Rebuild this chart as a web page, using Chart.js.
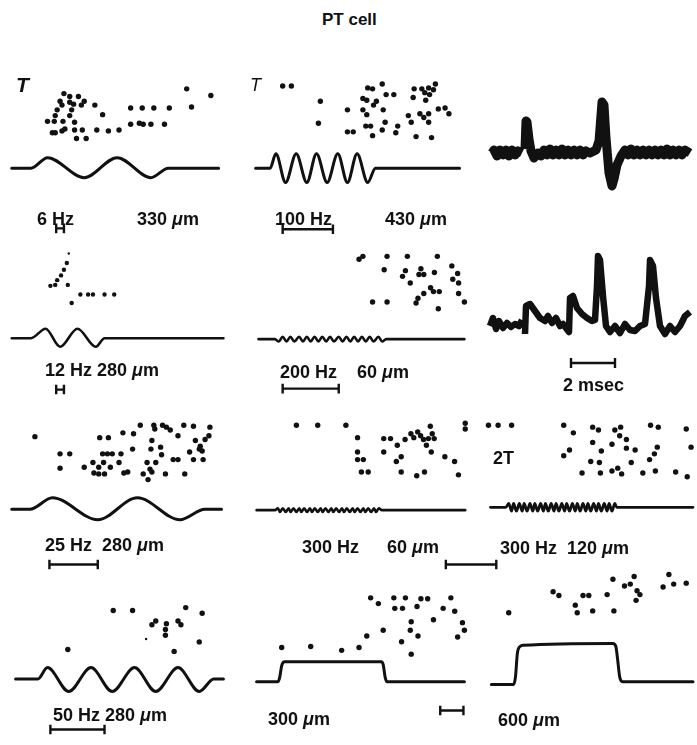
<!DOCTYPE html>
<html lang="en">
<head>
<meta charset="UTF-8">
<title>PT cell</title>
<script src="https://cdn.jsdelivr.net/npm/chart.js"></script>
<style>
    body { margin: 0; background: #fff; font-family: 'Liberation Sans', Arial, sans-serif; }
    #page { position: relative; width: 697px; height: 745px; overflow: hidden; }
    #page canvas { position: absolute; }
    .lbl { position: absolute; font-weight: bold; font-size: 18px; line-height: 20px; color: #111; white-space: pre; transform: translateY(-50%); }
    .lbl i { font-style: italic; }
</style>
</head>
<body>
<div id="page"></div>

<script>
// x = time units from the panel's left edge, y = height above the stimulus baseline

// 6 Hz, 330 um
const dots6Hz = [[62,78],[68,75],[77,75],[58,70],[68,69],[83,70],[60,66],[72,67],[80,66],[94,66],[55,61],[70,61],[102,56],[53,55],[68,55],[45,49],[52,49],[61,49],[73,48],[50,37],[53,37],[60,39],[63,41],[73,40],[81,40],[96,40],[108,39],[119,40],[75,31],[85,31],[131,63],[143,63],[155,63],[171,63],[194,64],[131,46],[140,47],[144,46],[152,46],[166,46],[189,83],[214,76]];
const wave6Hz = [[8,0],[28,0],[45,11],[83,-10],[117,11],[152,-10],[170,0],[222,0]];
const bar6Hz = [54,62,-63];

// 100 Hz, 430 um
const dots100Hz = [[40,86],[49,86],[79,70],[77,47],[107,61],[107,38],[113,38],[128,84],[133,83],[143,88],[147,77],[155,77],[123,73],[127,71],[137,70],[134,66],[123,61],[127,56],[144,61],[146,48],[126,44],[131,44],[133,34],[143,40],[157,37],[159,44],[176,83],[184,83],[191,84],[198,88],[196,82],[187,79],[192,77],[175,74],[188,71],[170,55],[173,48],[182,57],[186,53],[191,57],[191,48],[201,62],[208,63],[212,57],[178,33],[194,32]];
const wave100Hz = [[12,0],[27,0],[33,15],[43,-15],[54,15],[65,-15],[75,15],[86,-15],[97,15],[107,-15],[117,15],[128,-15],[136,0],[158,0],[223,0]];
const bar100Hz = [40,92,-64];

// unit record, single shock
const trace1 = [[12,0],[14,3],[17,-3],[20,3],[23,-2],[26,3],[29,-3],[32,3],[35,-2],[38,2],[42,0],[42,null],[45,4],[46,32],[47,31],[49,14],[51,2],[54,-5],[58,0],[61,-3],[64,3],[67,-2],[70,4],[73,-2],[76,3],[79,-2],[82,4],[85,-2],[88,3],[91,-2],[94,3],[97,-2],[100,3],[103,-2],[106,2],[110,0],[116,3],[119,12],[122,51],[124,48],[126,15],[129,-20],[132,-33],[134,-26],[137,-12],[141,-3],[145,3],[148,-2],[151,4],[154,-2],[157,3],[160,-2],[163,3],[166,-2],[169,3],[172,-2],[175,3],[178,-2],[181,3],[184,-2],[187,4],[190,-2],[193,3],[196,-2],[199,3],[202,-2],[205,3],[210,0]];

// 12 Hz, 280 um
const dots12Hz = [[65,79],[62,72],[59,66],[55,61],[53,56],[48,55],[66,56],[70,37],[79,46],[87,46],[92,46],[104,46],[114,46]];
const specks12Hz = [[67,89]];
const wave12Hz = [[8,0],[28,0],[43,10],[58,-9],[76,10],[95,-9],[104,0],[227,0]];
const bar12Hz = [54,62,-54];

// 200 Hz, 60 um
const dots200Hz = [[119,84],[123,87],[148,87],[169,87],[200,87],[145,73],[167,72],[164,66],[172,59],[183,74],[181,68],[186,68],[197,70],[215,77],[221,69],[216,63],[222,59],[193,54],[196,50],[202,50],[186,48],[180,43],[178,38],[133,39],[148,39],[201,32],[222,48],[228,39]];
const wave200Hz = [[15,0],[32,0],[36,-2.5],[40,2.5],[44,-2.5],[48,2.5],[52,-2.5],[57,2.5],[61,-2.5],[65,2.5],[69,-2.5],[73,2.5],[77,-2.5],[81,2.5],[85,-2.5],[89,2.5],[93,-2.5],[98,2.5],[102,-2.5],[106,2.5],[110,-2.5],[114,2.5],[118,-2.5],[122,2.5],[126,-2.5],[130,2.5],[134,-2.5],[139,2.5],[143,-2.5],[147,0],[228,0]];
const bar200Hz = [40,98,-52];

// unit record, train of shocks
const trace2 = [[10,0],[13,8],[16,-3],[19,5],[23,-2],[27,3],[31,-1],[35,2],[39,0],[42,6],[42,null],[45,-8],[46,20],[50,22],[55,15],[60,8],[65,5],[68,10],[72,3],[76,8],[80,0],[83,2],[86,-2],[89,-6],[90,28],[93,30],[97,18],[102,12],[107,8],[112,5],[115,6],[117,40],[118,70],[120,66],[123,30],[126,0],[130,-6],[135,0],[140,-7],[145,2],[150,-4],[155,-5],[160,0],[165,2],[169,40],[170,66],[173,60],[176,28],[180,0],[185,-8],[190,0],[195,-6],[200,0],[205,10],[210,14]];
const barMsec = [91,135,-37];

// 25 Hz, 280 um
const dots25Hz = [[32,76],[58,58],[68,58],[58,43],[99,75],[108,75],[123,80],[134,79],[141,88],[155,88],[164,88],[168,86],[172,83],[156,84],[186,88],[196,87],[213,86],[180,77],[212,77],[208,73],[198,72],[153,72],[162,65],[133,63],[152,63],[163,57],[102,58],[107,58],[112,58],[121,58],[192,60],[202,63],[205,61],[203,66],[92,49],[103,49],[119,49],[83,44],[98,44],[110,44],[148,49],[157,49],[175,52],[180,52],[196,52],[206,52],[93,38],[98,37],[104,37],[124,38],[128,39],[144,37],[149,31],[151,42],[153,39],[167,37],[187,37]];
const wave25Hz = [[8,0],[27,0],[50,12],[97,-11],[138,12],[182,-11],[208,0],[225,0]];
const bar25Hz = [47,97,-58];

// 300 Hz, 60 um
const dots300Hz = [[54,89],[76,89],[105,89],[117,76],[144,75],[151,75],[166,74],[172,80],[179,82],[192,88],[228,91],[228,85],[158,68],[117,61],[144,61],[117,53],[123,53],[162,56],[157,51],[182,78],[185,74],[190,75],[194,80],[196,75],[188,68],[193,61],[207,56],[217,51],[121,40],[128,40],[162,40],[178,36],[186,40],[221,37],[175,76]];
const wave300Hz = [[13,0],[32,0],[35,2],[37,-2],[40,2],[43,-2],[46,2],[48,-2],[51,2],[54,-2],[57,2],[59,-2],[62,2],[65,-2],[68,2],[70,-2],[73,2],[76,-2],[79,2],[81,-2],[84,2],[87,-2],[90,2],[92,-2],[95,2],[98,-2],[101,2],[103,-2],[106,2],[109,-2],[112,2],[114,-2],[117,2],[120,-2],[123,2],[125,-2],[128,2],[131,-2],[134,2],[136,-2],[139,2],[142,0],[228,0]];
const bar300Hz = [208,260,-57];

// 300 Hz, 120 um, 2T
const dots300Hz2T = [[15,86],[25,86],[39,86],[93,86],[103,78],[123,84],[129,81],[146,81],[152,84],[151,75],[158,71],[183,86],[191,84],[220,82],[123,68],[143,66],[158,62],[167,60],[190,63],[187,56],[225,63],[99,60],[93,54],[132,59],[121,48],[130,47],[163,47],[182,50],[112,36],[131,36],[143,38],[149,41],[153,35],[175,36],[188,38],[209,37],[221,32]];
const wave300Hz2T = [[17,0],[33,0],[36,4],[39,-4],[41,4],[44,-4],[47,4],[50,-4],[52,4],[55,-4],[58,4],[61,-4],[63,4],[66,-4],[69,4],[72,-4],[74,4],[77,-4],[80,4],[83,-4],[85,4],[88,-4],[91,4],[94,-4],[96,4],[99,-4],[102,4],[105,-4],[107,4],[110,-4],[113,4],[116,-4],[118,4],[121,-4],[124,4],[127,-4],[129,4],[132,-4],[135,4],[138,-4],[140,4],[143,-4],[146,4],[148,0],[227,0]];

// 50 Hz, 280 um
const dots50Hz = [[113,72],[133,72],[188,75],[205,69],[153,57],[157,61],[168,58],[167,52],[167,46],[180,61],[183,57],[202,39],[176,29],[66,31]];
const specks50Hz = [[147,42]];
const wave50Hz = [[12,0],[35,0],[45,12],[67,-13],[90,12],[112,-13],[135,12],[157,-13],[180,12],[202,-13],[217,0],[227,0]];
const bar50Hz = [48,104,-53];

// step, 300 um
const dotsStep300 = [[39,36],[69,37],[101,33],[119,36],[127,48],[131,88],[139,82],[144,54],[155,88],[167,88],[183,87],[190,87],[214,88],[156,77],[164,77],[179,79],[206,77],[218,74],[173,63],[196,65],[226,62],[228,54],[221,47],[172,54],[180,48],[163,42],[173,29]];
const waveStep300 = [[13,0],[35,0],[37,5],[39,17],[42,21],[142,21],[144,18],[146,5],[148,0],[228,0]];
const barStep300 = [203,227,-30];

// step, 600 um
const dotsStep600 = [[36,75],[82,97],[88,93],[105,83],[107,75],[113,93],[119,93],[123,77],[138,94],[145,77],[144,110],[156,103],[162,105],[166,113],[169,98],[172,94],[168,88],[196,102],[207,105],[202,115],[220,106]];
const waveStep600 = [[18,0],[41,0],[43,8],[45,33],[48,40],[51,41],[144,43],[147,40],[149,25],[151,8],[154,3],[227,3]];

// layout of each small panel on the page
const panels = [
    { left: 0,   top: 60,  w: 240, h: 180, base: 169, dots: dots6Hz, wave: wave6Hz, bar: bar6Hz, lw: 3 },
    { left: 240, top: 60,  w: 240, h: 180, base: 169, dots: dots100Hz, wave: wave100Hz, bar: bar100Hz, lw: 3 },
    { left: 480, top: 60,  w: 217, h: 170, base: 153, trace: trace1, tw: 9 },
    { left: 0,   top: 240, w: 240, h: 165, base: 339, dots: dots12Hz, specks: specks12Hz, wave: wave12Hz, bar: bar12Hz, lw: 2.6, r: 2.2 },
    { left: 240, top: 240, w: 240, h: 165, base: 340, dots: dots200Hz, wave: wave200Hz, bar: bar200Hz, lw: 2.6 },
    { left: 480, top: 230, w: 217, h: 175, base: 326, trace: trace2, tw: 6.5, bar: barMsec },
    { left: 0,   top: 405, w: 240, h: 175, base: 510, dots: dots25Hz, wave: wave25Hz, bar: bar25Hz, lw: 3 },
    { left: 240, top: 405, w: 270, h: 175, base: 511, dots: dots300Hz, wave: wave300Hz, bar: bar300Hz, lw: 2.6 },
    { left: 470, top: 405, w: 227, h: 175, base: 508, dots: dots300Hz2T, wave: wave300Hz2T, lw: 2.8 },
    { left: 0,   top: 575, w: 240, h: 170, base: 680, dots: dots50Hz, specks: specks50Hz, wave: wave50Hz, bar: bar50Hz, lw: 3 },
    { left: 240, top: 570, w: 240, h: 175, base: 683, dots: dotsStep300, wave: waveStep300, bar: barStep300, lw: 3 },
    { left: 470, top: 560, w: 227, h: 185, base: 686, dots: dotsStep600, wave: waveStep600, lw: 3 }
];

const labels = [
    { x: 322, y: 20,  html: 'PT cell', size: 17 },
    { x: 16,  y: 85,  html: '<i>T</i>', size: 21 },
    { x: 250, y: 85,  html: '<i style="font-weight:normal">T</i>', size: 18 },
    { x: 37,  y: 219, html: '6 Hz' },
    { x: 137, y: 219, html: '330 <i>μ</i>m' },
    { x: 275, y: 219, html: '100 Hz' },
    { x: 385, y: 219, html: '430 <i>μ</i>m' },
    { x: 45,  y: 370, html: '12 Hz 280 <i>μ</i>m' },
    { x: 280, y: 372, html: '200 Hz' },
    { x: 357, y: 372, html: '60 <i>μ</i>m' },
    { x: 563, y: 385, html: '2 msec' },
    { x: 493, y: 458, html: '2T' },
    { x: 45,  y: 545, html: '25 Hz  280 <i>μ</i>m' },
    { x: 302, y: 547, html: '300 Hz' },
    { x: 387, y: 547, html: '60 <i>μ</i>m' },
    { x: 500, y: 548, html: '300 Hz  120 <i>μ</i>m' },
    { x: 53,  y: 715, html: '50 Hz 280 <i>μ</i>m' },
    { x: 268, y: 719, html: '300 <i>μ</i>m' },
    { x: 498, y: 720, html: '600 <i>μ</i>m' }
];

const page = document.getElementById('page');
const ink = '#111';

function pts(arr) {
    return arr.map(([x, y]) => ({ x, y }));
}

function barPts([x1, x2, y]) {
    const t = 5;
    return [
        { x: x1, y: y + t }, { x: x1, y: y - t }, { x: x1, y: null },
        { x: x1, y: y }, { x: x2, y: y }, { x: x2, y: null },
        { x: x2, y: y + t }, { x: x2, y: y - t }
    ];
}

function makePanel(p) {
    const c = document.createElement('canvas');
    c.width = p.w;
    c.height = p.h;
    c.style.left = p.left + 'px';
    c.style.top = p.top + 'px';
    page.appendChild(c);

    const datasets = [];
    if (p.dots) {
        datasets.push({ type: 'scatter', data: pts(p.dots), pointRadius: p.r || 2.7, backgroundColor: ink, borderWidth: 0, clip: false });
    }
    if (p.specks) {
        datasets.push({ type: 'scatter', data: pts(p.specks), pointRadius: 1.2, backgroundColor: ink, borderWidth: 0, clip: false });
    }
    if (p.wave) {
        datasets.push({ type: 'line', data: pts(p.wave), borderColor: ink, borderWidth: p.lw, pointRadius: 0, cubicInterpolationMode: 'monotone', borderCapStyle: 'round', borderJoinStyle: 'round', fill: false, clip: false });
    }
    if (p.trace) {
        datasets.push({ type: 'line', data: pts(p.trace), borderColor: ink, borderWidth: p.tw, pointRadius: 0, tension: 0, borderJoinStyle: 'round', borderCapStyle: 'butt', fill: false, spanGaps: false, clip: false });
    }
    if (p.bar) {
        datasets.push({ type: 'line', data: barPts(p.bar), borderColor: ink, borderWidth: 2.4, pointRadius: 0, tension: 0, spanGaps: false, fill: false, clip: false });
    }

    new Chart(c, {
        type: 'scatter',
        data: { datasets },
        options: {
            responsive: false,
            animation: false,
            events: [],
            layout: { padding: 0 },
            plugins: { legend: { display: false }, tooltip: { enabled: false } },
            scales: {
                x: { type: 'linear', display: false, min: 0, max: p.w },
                y: { type: 'linear', display: false, min: p.base - p.top - p.h, max: p.base - p.top }
            }
        }
    });
}

panels.forEach(makePanel);

labels.forEach(l => {
    const d = document.createElement('div');
    d.className = 'lbl';
    d.style.left = l.x + 'px';
    d.style.top = l.y + 'px';
    if (l.size) d.style.fontSize = l.size + 'px';
    d.innerHTML = l.html;
    page.appendChild(d);
});
</script>
</body>
</html>
